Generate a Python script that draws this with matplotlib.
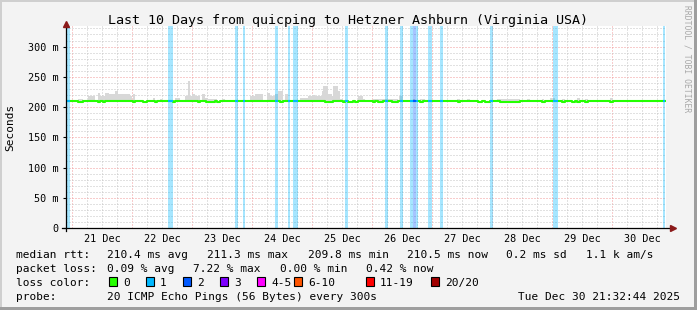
import matplotlib
matplotlib.use("Agg")
import matplotlib.pyplot as plt
from matplotlib.ticker import MultipleLocator, FuncFormatter
from matplotlib.patches import Rectangle

W, H = 697, 310

# time axis in days since 21 Dec 00:00
x_start = -0.103   # 20 Dec 21:32
x_end = 9.897      # 30 Dec 21:32
day_labels = ['21 Dec', '22 Dec', '23 Dec', '24 Dec', '25 Dec',
              '26 Dec', '27 Dec', '28 Dec', '29 Dec', '30 Dec']

# grey smoke (ping spread) segments: start day, end day, top in ms
smoke_start = [0.100, 0.267, 0.433, 0.467, 0.550, 0.617, 0.717, 0.767, 0.800, 0.850,
               0.967, 1.017, 1.350, 1.467, 1.717, 1.883, 1.933, 1.967, 2.000, 2.050,
               2.100, 2.167, 2.217, 2.267, 2.500, 2.967, 3.050, 3.250, 3.300, 3.383,
               3.433, 3.550, 3.800, 3.933, 4.000, 4.050, 4.167, 4.183, 4.267, 4.333,
               4.350, 4.433, 4.467, 4.767, 4.850, 5.017, 5.450, 5.683, 5.800, 6.417,
               6.583, 7.083, 7.583, 7.833, 7.967, 8.167, 8.417, 8.550, 8.967]
smoke_end = [0.183, 0.383, 0.467, 0.550, 0.617, 0.717, 0.767, 0.800, 0.850, 0.967,
             1.000, 1.050, 1.383, 1.500, 1.800, 1.933, 1.967, 2.000, 2.050, 2.100,
             2.133, 2.217, 2.267, 2.417, 2.550, 3.050, 3.183, 3.300, 3.383, 3.433,
             3.517, 3.600, 3.933, 4.000, 4.050, 4.167, 4.183, 4.267, 4.333, 4.350,
             4.433, 4.467, 4.517, 4.850, 4.883, 5.433, 5.517, 5.717, 5.883, 6.467,
             6.633, 7.467, 7.633, 7.867, 8.050, 8.217, 8.467, 8.600, 9.017]
smoke_top = [214, 218, 224, 218, 224, 221, 226, 221, 222, 221,
             218, 221, 215, 214, 215, 219, 243, 219, 222, 219,
             218, 221, 215, 214, 214, 218, 222, 224, 219, 222,
             227, 222, 215, 219, 220, 218, 227, 234, 222, 218,
             235, 227, 214, 218, 214, 214, 218, 214, 214, 214,
             214, 213, 214, 214, 215, 214, 215, 214, 215]
smoke_bottom = 209.0

# median rtt: base level and short dips
median_base = 210.3
dip_value = 208.6
dip_start = [0.100, 0.433, 0.517, 1.017, 1.183, 1.383, 1.683, 2.100, 2.233, 2.417,
             3.467, 4.217, 4.517, 4.600, 4.717, 5.017, 5.100, 5.333, 5.800, 6.433,
             6.767, 6.883, 7.133, 7.833, 8.167, 8.333, 8.417, 8.550, 8.967]
dip_end = [0.183, 0.467, 0.550, 1.050, 1.250, 1.417, 1.717, 2.133, 2.383, 2.467,
           3.517, 4.350, 4.550, 4.683, 4.767, 5.050, 5.183, 5.433, 5.850, 6.467,
           6.833, 6.967, 7.467, 7.883, 8.217, 8.383, 8.467, 8.600, 9.017]

# packet loss periods: start day, end day, loss level index
loss_start = [-0.103, 1.600, 2.717, 2.850, 3.383, 3.600, 3.683, 4.550, 5.217, 5.467,
              5.633, 5.683, 5.733, 5.933, 6.133, 6.967, 8.017, 9.850]
loss_end = [-0.033, 1.683, 2.767, 2.883, 3.433, 3.633, 3.767, 4.600, 5.267, 5.517,
            5.683, 5.733, 5.767, 6.000, 6.183, 7.017, 8.100, 9.883]
loss_level = [1, 1, 1, 1, 1, 1, 1, 1, 1, 1, 1, 2, 1, 1, 1, 1, 1, 1]

loss_labels = ['0', '1', '2', '3', '4-5', '6-10', '11-19', '20/20']
loss_colors = ['#26ff00', '#00b8ff', '#0059ff', '#7e00ff', '#ff00ff',
               '#ff5500', '#ff0000', '#a10000']

legend_rows = [
    ['median rtt:', '210.4 ms avg', '211.3 ms max', '209.8 ms min',
     '210.5 ms now', '0.2 ms sd', '1.1 k am/s'],
    ['packet loss:', '0.09 % avg', '7.22 % max', '0.00 % min', '0.42 % now'],
]
probe_text = '20 ICMP Echo Pings (56 Bytes) every 300s'
stamp_text = 'Tue Dec 30 21:32:44 2025'

mono = 'DejaVu Sans Mono'
plt.rcParams['font.family'] = mono


def fx(px):
    return px / W


def fy(py):
    return 1 - py / H


fig = plt.figure(figsize=(W / 100, H / 100), dpi=100, facecolor='#f3f3f3')

# rrdtool style frame
fig.patches.append(Rectangle((0, fy(2)), 1, 2 / H, transform=fig.transFigure,
                             color='#cfcfcf', lw=0))
fig.patches.append(Rectangle((0, 0), 2 / W, 1, transform=fig.transFigure,
                             color='#cfcfcf', lw=0))
fig.patches.append(Rectangle((fx(W - 3), 0), 3 / W, 1, transform=fig.transFigure,
                             color='#9e9e9e', lw=0))
fig.patches.append(Rectangle((0, 0), 1, 3 / H, transform=fig.transFigure,
                             color='#9e9e9e', lw=0))

ax = fig.add_axes([fx(66), fy(228), 600 / W, (228 - 26) / H])
ax.set_facecolor('white')
ax.set_xlim(x_start, x_end)
ax.set_ylim(0, 334)

# grid
ax.xaxis.set_major_locator(MultipleLocator(1))
ax.xaxis.set_minor_locator(MultipleLocator(0.25))
ax.yaxis.set_major_locator(MultipleLocator(50))
ax.yaxis.set_minor_locator(MultipleLocator(10))
ax.grid(which='minor', color='#c4c4c4', linestyle=(0, (1, 2)), lw=0.72)
ax.grid(which='major', color='#f29a9a', linestyle=(0, (1, 2)), lw=0.72)
ax.set_axisbelow(True)

# smoke
ax.bar(smoke_start, [t - smoke_bottom for t in smoke_top],
       width=[e - s for s, e in zip(smoke_start, smoke_end)],
       bottom=smoke_bottom, align='edge', color='#d8d8d8', lw=0, zorder=2)

# loss bars
for s, e, lv in zip(loss_start, loss_end, loss_level):
    ax.axvspan(s, e, color=loss_colors[lv], alpha=0.35, lw=0, zorder=3)

# median line
mx = [x_start]
my = [median_base]
for s, e in zip(dip_start, dip_end):
    mx += [s, s, e, e]
    my += [median_base, dip_value, dip_value, median_base]
mx.append(x_end)
my.append(median_base)
ax.plot(mx, my, color=loss_colors[0], lw=1.5, solid_capstyle='butt', zorder=4)
for s, e, lv in zip(loss_start, loss_end, loss_level):
    ax.hlines(median_base, s, e, color=loss_colors[lv], lw=1.5, zorder=5)

# axes
for sp in ax.spines.values():
    sp.set_visible(False)
ax.plot([-0.006, 1.008], [0, 0], color='black', lw=0.9, transform=ax.transAxes,
        clip_on=False, zorder=6)
ax.plot([0, 0], [-0.015, 1.0], color='black', lw=0.9, transform=ax.transAxes,
        clip_on=False, zorder=6)
ax.plot([1.012], [0], marker='>', color='#8b1a1a', ms=4, transform=ax.transAxes,
        clip_on=False, zorder=6)
ax.plot([0], [1.012], marker='^', color='#8b1a1a', ms=4, transform=ax.transAxes,
        clip_on=False, zorder=6)

ax.yaxis.set_major_formatter(FuncFormatter(lambda v, p: '0' if v == 0 else f'{v:.0f} m'))
ax.tick_params(axis='y', which='major', length=2, pad=3.4, labelsize=7.3, width=0.8)
ax.tick_params(axis='y', which='minor', length=0)


def day_fmt(v, p):
    k = v - 0.5
    i = int(round(k))
    if abs(k - i) < 1e-6 and 0 <= i < len(day_labels):
        return day_labels[i]
    return ''


ax.xaxis.set_major_formatter(FuncFormatter(lambda v, p: ''))
ax.xaxis.set_minor_formatter(FuncFormatter(day_fmt))
ax.tick_params(axis='x', which='major', length=0)
ax.tick_params(axis='x', which='minor', length=0, pad=4.3, labelsize=7.3)

fig.text(fx(10), fy(127), 'Seconds', rotation=90, ha='center', va='center', fontsize=8)

fig.text(fx(108), fy(24), 'Last 10 Days from quicping to Hetzner Ashburn (Virginia USA)',
         ha='left', va='baseline', fontsize=9.6)

fig.text(fx(687), fy(5), 'RRDTOOL / TOBI OETIKER', rotation=270, ha='center', va='top',
         fontsize=5.8, color='#a8a8a8')

# legend block
row1_x = [16, 107, 207, 307.5, 407.5, 506.5, 586]
row2_x = [16, 107, 193, 279.5, 366]
for txt, x in zip(legend_rows[0], row1_x):
    fig.text(fx(x), fy(258), txt, ha='left', va='baseline', fontsize=8)
for txt, x in zip(legend_rows[1], row2_x):
    fig.text(fx(x), fy(272), txt, ha='left', va='baseline', fontsize=8)

fig.text(fx(16), fy(286), 'loss color:', ha='left', va='baseline', fontsize=8)
box_x = [108.5, 145.5, 182.5, 219.5, 256.5, 293.5, 365.5, 431]
for lab, col, bx in zip(loss_labels, loss_colors, box_x):
    fig.patches.append(Rectangle((fx(bx), fy(286)), 8 / W, 9 / H,
                                 transform=fig.transFigure, facecolor=col,
                                 edgecolor='black', lw=0.8))
    fig.text(fx(bx + 14.5), fy(286), lab, ha='left', va='baseline', fontsize=8)

fig.text(fx(16), fy(300), 'probe:', ha='left', va='baseline', fontsize=8)
fig.text(fx(107), fy(300), probe_text, ha='left', va='baseline', fontsize=8)
fig.text(fx(680), fy(300), stamp_text, ha='right', va='baseline', fontsize=8)

fig.savefig('out.png', dpi=100, facecolor=fig.get_facecolor())
